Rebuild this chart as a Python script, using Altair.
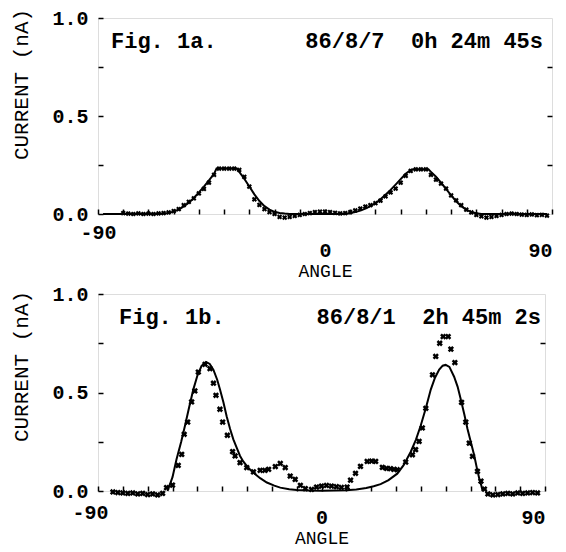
import altair as alt
import pandas as pd

FONT = "Liberation Mono"
NB = "\u00a0"

# ---------------- Fig. 1a (measured points and fitted curve) ----------------
ang_a = [-80, -78, -76, -74, -72, -70, -68, -66, -64, -62, -60, -58, -56, -54, -52,
         -50, -48, -46, -44, -42, -40, -38, -36, -34, -32, -30, -28, -26, -24, -22,
         -20, -18, -16, -14, -12, -10, -8, -6, -4, -2, 0, 2, 4, 6, 8, 10, 12, 14, 16,
         18, 20, 22, 24, 26, 28, 30, 32, 34, 36, 38, 40, 42, 44, 46, 48, 50, 52, 54,
         56, 58, 60, 62, 64, 66, 68, 70, 72, 74, 76, 78, 80, 82, 84, 86, 88]
cur_a = [0.005, 0.002, 0.0, 0.003, 0.0, 0.002, 0.0, 0.003, 0.005, 0.008, 0.015, 0.025,
         0.045, 0.062, 0.08, 0.105, 0.128, 0.16, 0.2, 0.232, 0.232, 0.232, 0.232, 0.225,
         0.19, 0.14, 0.075, 0.046, 0.025, 0.01, 0.0, -0.015, -0.018, -0.015, -0.01,
         -0.005, 0.0, 0.005, 0.01, 0.012, 0.012, 0.01, 0.006, 0.003, 0.005, 0.01, 0.018,
         0.028, 0.038, 0.045, 0.055, 0.068, 0.09, 0.11, 0.13, 0.16, 0.195, 0.22, 0.228,
         0.228, 0.228, 0.2, 0.175, 0.155, 0.13, 0.095, 0.07, 0.045, 0.022, 0.008, -0.005,
         -0.012, -0.018, -0.015, -0.01, -0.005, 0.0, 0.002, 0.0, -0.003, -0.005, -0.002,
         -0.006, -0.004, -0.008]
fit_ang_a = [-88, -66, -64, -62, -60, -58, -56, -54, -52, -50, -48, -46, -44, -43, -35,
             -34, -32, -30, -28, -26, -24, -22, -20, -18, -16, -14, 8, 10, 12, 14, 16,
             18, 20, 22, 24, 26, 28, 30, 32, 34, 35, 41, 42, 44, 46, 48, 50, 52, 54, 56,
             58, 60, 62, 88]
fit_a = [0.0, 0.0, 0.002, 0.005, 0.012, 0.022, 0.038, 0.058, 0.082, 0.11, 0.14, 0.172,
         0.205, 0.232, 0.232, 0.215, 0.18, 0.14, 0.1, 0.066, 0.04, 0.022, 0.011, 0.005,
         0.002, 0.0, 0.0, 0.005, 0.01, 0.017, 0.027, 0.04, 0.055, 0.075, 0.098, 0.123,
         0.15, 0.178, 0.205, 0.225, 0.228, 0.228, 0.215, 0.19, 0.16, 0.128, 0.095, 0.065,
         0.04, 0.022, 0.01, 0.004, 0.0, 0.0]

# ---------------- Fig. 1b (measured points and fitted curve) ----------------
ang_b = [-84, -82, -80, -78, -76, -74, -72, -70, -68, -66, -64, -62.4, -60, -57.7,
         -56.3, -55.3, -53.9, -52.3, -51, -49.6, -46.9, -44.9, -43.5, -42.5, -40.9,
         -39.8, -37.9, -35.8, -34.8, -32.8, -30.1, -27.4, -24.7, -22.8, -21.3, -18.6,
         -16.6, -14.6, -12.6, -10.6, -8.5, -6.5, -4, -2, 0, 2, 4, 6, 8, 10.3, 11.7,
         13.7, 15.7, 18.4, 20.2, 21.8, 24.5, 26.2, 27.8, 29.2, 30.5, 33.9, 36.6, 37.9,
         39.3, 40.6, 42, 44.7, 46, 47.6, 49, 51, 52.1, 53.7, 56.4, 58.1, 59.5, 60.8,
         62.8, 64.2, 65.6, 67, 69, 71, 73, 75, 77, 79, 81, 83, 85, 87]
cur_b = [-0.005, -0.008, -0.01, -0.012, -0.01, -0.015, -0.012, -0.018, -0.015, -0.02,
         -0.012, 0.017, 0.03, 0.13, 0.186, 0.288, 0.35, 0.452, 0.508, 0.604, 0.643,
         0.621, 0.547, 0.486, 0.415, 0.35, 0.283, 0.2, 0.178, 0.144, 0.119, 0.097, 0.105,
         0.105, 0.11, 0.124, 0.14, 0.119, 0.076, 0.059, 0.029, 0.012, 0.008, 0.02, 0.025,
         0.028, 0.025, 0.022, 0.018, 0.02, 0.055, 0.09, 0.125, 0.15, 0.152, 0.15, 0.12,
         0.115, 0.113, 0.11, 0.108, 0.147, 0.184, 0.21, 0.252, 0.32, 0.42, 0.59, 0.683,
         0.75, 0.784, 0.784, 0.72, 0.652, 0.45, 0.35, 0.243, 0.176, 0.1, 0.05, 0.01,
         -0.015, -0.02, -0.018, -0.015, -0.012, -0.015, -0.01, -0.012, -0.01, -0.008,
         -0.01]
fit_ang_b = [-62, -60, -58.4, -56.5, -55, -53.3, -51.6, -50, -48.3, -46.5, -45, -43.5,
             -42, -40.9, -39.5, -38.2, -36.8, -35.5, -34, -32.8, -31.5, -30.1, -28.7,
             -27.4, -24.7, -22, -19, -16.6, -13, -10, -5, 0, 5, 10, 14, 18, 21, 23.8,
             27, 30.5, 33, 35.9, 38, 39.9, 42, 44, 45.7, 47.4, 48.8, 50, 51.5, 53.4,
             54.8, 56.1, 57.5, 58.8, 60.2, 61.5, 62.5, 63.5, 64.3, 64.9]
fit_b = [0.0, 0.07, 0.16, 0.25, 0.33, 0.425, 0.516, 0.585, 0.635, 0.655, 0.645, 0.615,
         0.565, 0.516, 0.45, 0.38, 0.315, 0.262, 0.215, 0.178, 0.15, 0.127, 0.108, 0.093,
         0.065, 0.043, 0.027, 0.017, 0.009, 0.005, 0.002, 0.001, 0.002, 0.004, 0.008,
         0.015, 0.024, 0.035, 0.055, 0.088, 0.13, 0.198, 0.26, 0.33, 0.42, 0.515, 0.575,
         0.616, 0.636, 0.64, 0.63, 0.58, 0.53, 0.465, 0.39, 0.315, 0.245, 0.18, 0.12,
         0.065, 0.03, 0.0]

x_ticks = list(range(-90, 91, 10))
y_ticks = [0, 0.25, 0.5, 0.75, 1.0]


def make_panel(pa, pc, fa, fc, fig_label, stamp, w, h, pad_m90, pad_0,
               off_m90, title_pad, title_y, msize, lab_x, stamp_x):
    pts = pd.DataFrame({"angle": pa, "current": pc})
    fit = pd.DataFrame({"angle": fa, "current": fc})
    xs = alt.Scale(domain=[-90, 90], nice=False, zero=False)
    ys = alt.Scale(domain=[0, 1], nice=False, zero=False)

    x_axis = alt.Axis(
        values=x_ticks, offset=-5, tickSize=5, tickWidth=1.5, tickColor="black",
        domain=False, grid=False,
        labelExpr="indexof([-90,0,90], datum.value) >= 0 ? toString(datum.value) : ''",
        labelPadding={"condition": {"test": "datum.value == -90", "value": pad_m90},
                      "value": pad_0},
        labelOffset={"condition": {"test": "datum.value == -90", "value": off_m90},
                     "value": 0},
        labelAlign={"condition": {"test": "datum.value == 90", "value": "right"},
                    "value": "center"},
        labelFont=FONT, labelFontSize=20, labelFontWeight="bold", labelColor="black",
        labelBaseline="middle", labelFlush=False, labelOverlap=False,
        title="ANGLE", titleFont=FONT, titleFontSize=18, titleFontWeight="normal",
        titleColor="black", titlePadding=title_pad)
    y_axis = alt.Axis(
        values=y_ticks, offset=-5, tickSize=5, tickWidth=1.5, tickColor="black",
        domain=False, grid=False,
        labelExpr="indexof([0,0.5,1], datum.value) >= 0 ? format(datum.value, '.1f') : ''",
        labelPadding=10, labelFont=FONT, labelFontSize=20, labelFontWeight="bold",
        labelColor="black", labelFlush=False, labelOverlap=False,
        title="CURRENT (nA)", titleFont=FONT, titleFontSize=21, titleFontWeight="normal",
        titleColor="black", titlePadding=20, titleY=title_y)
    y_axis_r = alt.Axis(
        orient="right", values=[0.25, 0.5, 0.75], offset=-5, tickSize=5, tickWidth=1.5,
        tickColor="black", domain=False, grid=False, labels=False, title=None)

    line = alt.Chart(fit).mark_line(color="black", strokeWidth=2, clip=False).encode(
        x=alt.X("angle:Q", scale=xs, axis=x_axis),
        y=alt.Y("current:Q", scale=ys, axis=y_axis))
    points = alt.Chart(pts).mark_point(
        shape="cross", angle=45, filled=True, color="black", size=msize, opacity=1
    ).encode(
        x=alt.X("angle:Q", scale=xs, axis=x_axis),
        y=alt.Y("current:Q", scale=ys, axis=y_axis_r))
    lab = alt.Chart(pd.DataFrame({"t": [fig_label]})).mark_text(
        align="left", baseline="middle", font=FONT, fontSize=22, fontWeight="bold",
        color="black").encode(
        text="t:N", x=alt.value(lab_x), y=alt.value(23))
    stp = alt.Chart(pd.DataFrame({"t": [stamp]})).mark_text(
        align="right", baseline="middle", font=FONT, fontSize=22, fontWeight="bold",
        color="black").encode(
        text="t:N", x=alt.value(stamp_x), y=alt.value(23))
    return alt.layer(line, points, lab, stp).resolve_axis(y="independent").properties(
        width=w, height=h)


p1 = make_panel(ang_a, cur_a, fit_ang_a, fit_a, "Fig. 1a.",
                "86/8/7" + NB + NB + "0h 24m 45s",
                454, 196, 18, 36, 0, 2, 66, 28, 13, 445)
p2 = make_panel(ang_b, cur_b, fit_ang_b, fit_b, "Fig. 1b.",
                "86/8/1" + NB + NB + "2h 45m 2s",
                447, 197, 21, 26, -8, 2, 72, 40, 21, 443)

chart = alt.vconcat(p1, p2, spacing=2).properties(
    padding={"left": 2, "top": -1, "right": 0, "bottom": 0}
).configure_view(stroke="black", strokeWidth=1.5).configure(background="white")

chart.save("out.html", embed_options={"renderer": "svg", "actions": False})
